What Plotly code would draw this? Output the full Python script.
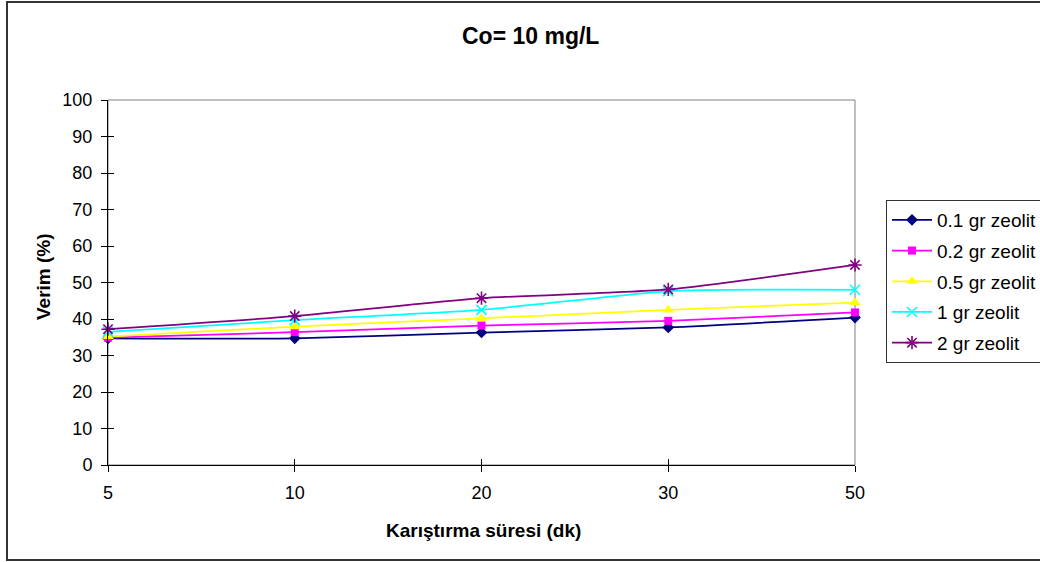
import plotly.graph_objects as go

# ---- data ----
categories = ["5", "10", "20", "30", "50"]
series_names = ["0.1 gr zeolit", "0.2 gr zeolit", "0.5 gr zeolit", "1 gr zeolit", "2 gr zeolit"]
v_01 = [34.7, 34.7, 36.3, 37.7, 40.4]
v_02 = [34.9, 36.4, 38.2, 39.5, 41.8]
v_05 = [35.2, 37.9, 40.2, 42.5, 44.5]
v_1 = [36.5, 39.7, 42.5, 47.6, 48.0]
v_2 = [37.2, 40.8, 45.7, 48.1, 54.8]
y_ticks = [0, 10, 20, 30, 40, 50, 60, 70, 80, 90, 100]

values = [v_01, v_02, v_05, v_1, v_2]
colors = ["#000080", "#FF00FF", "#FFFF00", "#00FFFF", "#800080"]
symbols = ["diamond", "square", "triangle-up", "x-thin-open", "asterisk-open"]
sizes = [9, 8, 10, 10, 11]

FONT = "Liberation Sans, Arial, sans-serif"

fig = go.Figure()
for name, vals, col, sym, sz in zip(series_names, values, colors, symbols, sizes):
    open_sym = sym.endswith("open")
    fig.add_trace(go.Scatter(
        x=categories, y=vals, name=name, mode="lines+markers",
        line=dict(color=col, width=1.75, shape="spline", smoothing=0.6),
        marker=dict(symbol=sym, size=sz, color=col,
                    line=dict(color=col, width=1.6 if open_sym else 0)),
        cliponaxis=False, legendgroup=name,
    ))

W, H = 1040, 562
L, R, T, B = 108, 855, 100, 465
pw, ph = R - L, B - T

def px(x):
    return (x - L) / pw

def py(y):
    return (B - y) / ph

fig.update_layout(
    width=W, height=H,
    margin=dict(l=L, r=W - R, t=T, b=H - B, autoexpand=False),
    paper_bgcolor="white", plot_bgcolor="white",
    font=dict(family=FONT, size=18, color="black"),
    showlegend=True,
    legend=dict(x=px(886), y=py(200), xanchor="left", yanchor="top",
                bordercolor="#333333", borderwidth=1, bgcolor="white",
                font=dict(size=19), tracegroupgap=3, traceorder="grouped",
                itemwidth=40, entrywidth=175),
    xaxis=dict(type="category", categoryorder="array", categoryarray=categories,
               range=[0, 4], showline=True, linecolor="black", linewidth=1,
               ticks="outside", ticklen=6, tickcolor="black", showgrid=False,
               zeroline=False, tickfont=dict(size=18), ticklabelstandoff=5),
    yaxis=dict(range=[0, 100], tickvals=y_ticks, showline=True, linecolor="black",
               linewidth=1, ticks="outside", ticklen=6, tickcolor="black",
               showgrid=False, zeroline=False, tickfont=dict(size=18),
               ticklabelstandoff=5),
    xaxis2=dict(type="category", categoryorder="array", categoryarray=categories,
                range=[0, 4], overlaying="x", side="bottom", ticks="inside",
                ticklen=6, tickcolor="black", showticklabels=False,
                showgrid=False, zeroline=False, showline=False),
    yaxis2=dict(range=[0, 100], tickvals=y_ticks, overlaying="y", side="left",
                ticks="inside", ticklen=6, tickcolor="black", showticklabels=False,
                showgrid=False, zeroline=False, showline=False),
    shapes=[
        dict(type="rect", xref="paper", yref="paper", x0=0, y0=0, x1=1, y1=1,
             line=dict(color="#808080", width=1), layer="below"),
        dict(type="rect", xref="paper", yref="paper", x0=px(7), y0=py(560),
             x1=px(1060), y1=py(2), line=dict(color="#333333", width=2),
             layer="below"),
    ],
    annotations=[
        dict(text="<b>Co= 10 mg/L</b>", xref="paper", yref="paper",
             x=px(530), y=py(36), showarrow=False, xanchor="center",
             yanchor="middle", font=dict(size=23)),
        dict(text="<b>Verim (%)</b>", xref="paper", yref="paper",
             x=px(43), y=py(277), showarrow=False, textangle=-90,
             xanchor="center", yanchor="middle", font=dict(size=19)),
        dict(text="<b>Karıştırma süresi (dk)</b>", xref="paper", yref="paper",
             x=px(483), y=py(530), showarrow=False, xanchor="center",
             yanchor="middle", font=dict(size=19)),
    ],
)

# invisible trace to activate the overlay axes (inside half of the cross ticks)
fig.add_trace(go.Scatter(x=categories, y=v_01, xaxis="x2", yaxis="y2",
                         mode="markers", marker=dict(opacity=0), showlegend=False,
                         hoverinfo="skip"))

fig.write_html("out.html")
